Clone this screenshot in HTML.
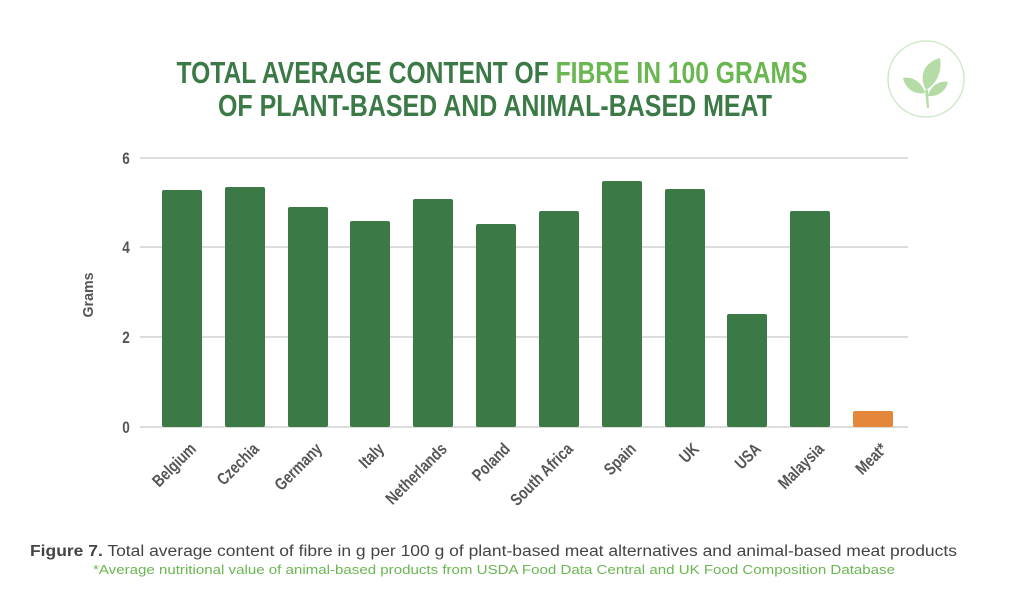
<!DOCTYPE html>
<html><head><meta charset="utf-8"><style>
html,body{margin:0;padding:0;background:#fff;width:1024px;height:598px;overflow:hidden}
</style></head><body>
<svg width="1024" height="598" viewBox="0 0 1024 598" xmlns="http://www.w3.org/2000/svg" font-family="Liberation Sans, sans-serif">
<text x="492" y="83" text-anchor="middle" font-size="31" font-weight="bold" fill="#3b7a46" textLength="631" lengthAdjust="spacingAndGlyphs">TOTAL AVERAGE CONTENT OF <tspan fill="#6ab651">FIBRE IN 100 GRAMS</tspan></text>
<text x="495" y="116" text-anchor="middle" font-size="31" font-weight="bold" fill="#3b7a46" textLength="554" lengthAdjust="spacingAndGlyphs">OF PLANT-BASED AND ANIMAL-BASED MEAT</text>
<circle cx="926" cy="79" r="38" fill="none" stroke="#cfe8c8" stroke-width="1.5"/>
<g fill="#b5dba6">
<path d="M940 58 C925 62 918 75 926 90 C938 83 942 70 940 58Z"/>
<path d="M903 78 C912 76 922 82 925 93 C914 95 905 88 903 78Z"/>
<path d="M948 82 C940 80 930 86 928 96 C938 97 946 91 948 82Z"/>
<path d="M925 90 L927 108 L929 108 L928 90Z"/>
</g>
<g stroke="#c8c8c8" stroke-width="1.2">
<line x1="140" y1="158" x2="908" y2="158"/>
<line x1="140" y1="247" x2="908" y2="247"/>
<line x1="140" y1="337" x2="908" y2="337"/>
<line x1="140" y1="427" x2="908" y2="427"/>
</g>
<g font-size="17" font-weight="bold" fill="#555" text-anchor="middle">
<text x="126" y="164" transform="translate(126,0) scale(0.8,1) translate(-126,0)">6</text>
<text x="126" y="253" transform="translate(126,0) scale(0.8,1) translate(-126,0)">4</text>
<text x="126" y="343" transform="translate(126,0) scale(0.8,1) translate(-126,0)">2</text>
<text x="126" y="433" transform="translate(126,0) scale(0.8,1) translate(-126,0)">0</text>
</g>
<text transform="translate(93,295) rotate(-90)" text-anchor="middle" font-size="15" font-weight="bold" fill="#555" textLength="45" lengthAdjust="spacingAndGlyphs">Grams</text>
<g fill="#3b7a46">
<rect x="162" y="190" width="40" height="237" rx="2"/>
<rect x="225" y="187" width="40" height="240" rx="2"/>
<rect x="288" y="207" width="40" height="220" rx="2"/>
<rect x="350" y="221" width="40" height="206" rx="2"/>
<rect x="413" y="199" width="40" height="228" rx="2"/>
<rect x="476" y="224" width="40" height="203" rx="2"/>
<rect x="539" y="211" width="40" height="216" rx="2"/>
<rect x="602" y="181" width="40" height="246" rx="2"/>
<rect x="665" y="189" width="40" height="238" rx="2"/>
<rect x="727" y="314" width="40" height="113" rx="2"/>
<rect x="790" y="211" width="40" height="216" rx="2"/>
</g>
<rect x="853" y="411" width="40" height="16" rx="2" fill="#e5873a"/>
<g font-size="17" font-weight="bold" fill="#555" text-anchor="end">
<text transform="translate(197,450) rotate(-45) scale(0.8,1)">Belgium</text>
<text transform="translate(260,450) rotate(-45) scale(0.8,1)">Czechia</text>
<text transform="translate(323,450) rotate(-45) scale(0.8,1)">Germany</text>
<text transform="translate(385,450) rotate(-45) scale(0.8,1)">Italy</text>
<text transform="translate(448,450) rotate(-45) scale(0.8,1)">Netherlands</text>
<text transform="translate(511,450) rotate(-45) scale(0.8,1)">Poland</text>
<text transform="translate(574,450) rotate(-45) scale(0.8,1)">South Africa</text>
<text transform="translate(637,450) rotate(-45) scale(0.8,1)">Spain</text>
<text transform="translate(700,450) rotate(-45) scale(0.8,1)">UK</text>
<text transform="translate(762,450) rotate(-45) scale(0.8,1)">USA</text>
<text transform="translate(825,450) rotate(-45) scale(0.8,1)">Malaysia</text>
<text transform="translate(888,450) rotate(-45) scale(0.8,1)">Meat*</text>
</g>
<text x="30" y="556" font-size="15.5" fill="#444" textLength="927" lengthAdjust="spacingAndGlyphs"><tspan font-weight="bold">Figure 7.</tspan> Total average content of fibre in g per 100 g of plant-based meat alternatives and animal-based meat products</text>
<text x="93" y="574" font-size="13" fill="#6ab651" textLength="802" lengthAdjust="spacingAndGlyphs">*Average nutritional value of animal-based products from USDA Food Data Central and UK Food Composition Database</text>
</svg>
</body></html>
